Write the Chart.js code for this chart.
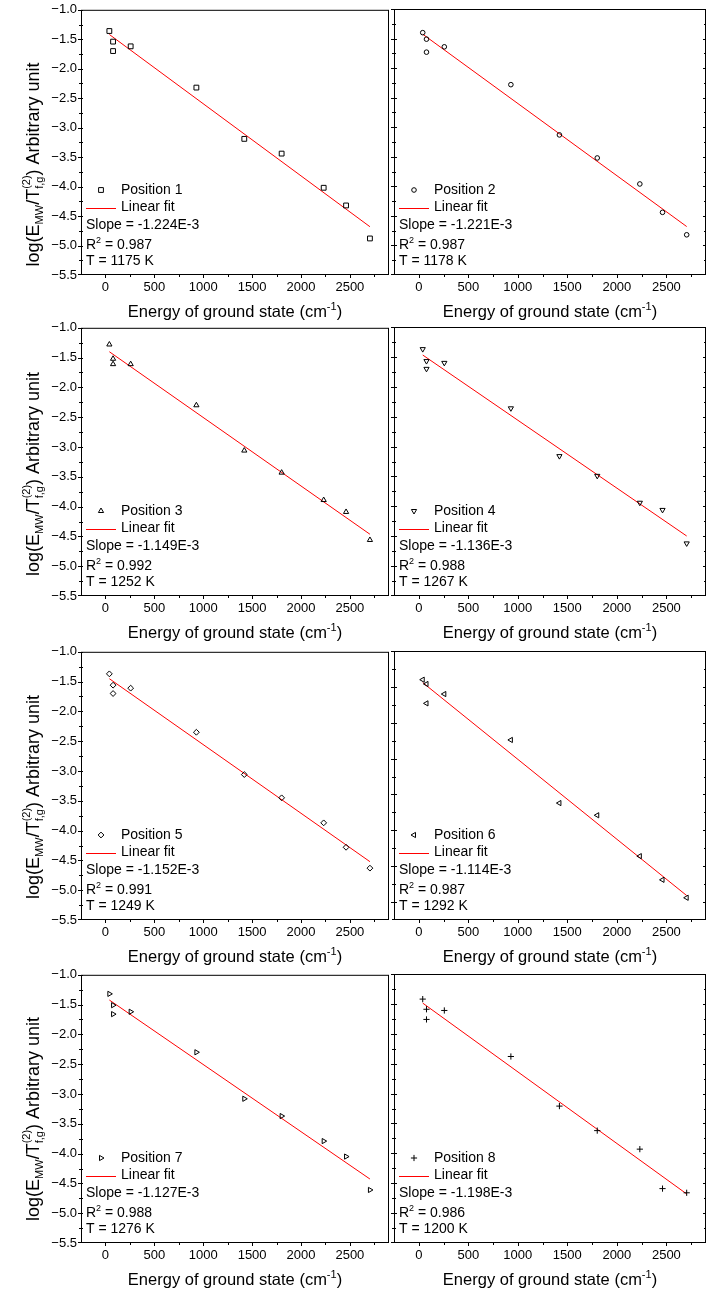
<!DOCTYPE html>
<html>
<head>
<meta charset="utf-8">
<script src="https://cdn.jsdelivr.net/npm/chart.js@4.4.1/dist/chart.umd.min.js"></script>
<style>
  html, body { margin: 0; padding: 0; background: #fff; }
  #board { position: relative; width: 711px; height: 1295px; overflow: hidden; background: #fff; }
  #board canvas { position: absolute; }
</style>
</head>
<body>
<div id="board"></div>
<script>
// Ground-state energy levels (cm^-1), shared by all eight positions
const energy = [40, 78, 78, 258, 930, 1420, 1802, 2232, 2461, 2705];

// log(E_MW / T(2)_f,g) for each measurement position
const position1 = [-1.36, -1.54, -1.70, -1.62, -2.32, -3.19, -3.44, -4.02, -4.32, -4.88];
const position2 = [-1.40, -1.51, -1.73, -1.64, -2.28, -3.13, -3.52, -3.96, -4.44, -4.82];
const position3 = [-1.28, -1.52, -1.61, -1.61, -2.30, -3.06, -3.43, -3.89, -4.09, -4.56];
const position4 = [-1.37, -1.57, -1.70, -1.60, -2.36, -3.16, -3.49, -3.94, -4.06, -4.62];
const position5 = [-1.37, -1.56, -1.70, -1.61, -2.35, -3.06, -3.45, -3.87, -4.28, -4.63];
const position6 = [-1.40, -1.46, -1.73, -1.60, -2.24, -3.12, -3.29, -3.86, -4.19, -4.44];
const position7 = [-1.32, -1.51, -1.66, -1.62, -2.30, -3.08, -3.37, -3.79, -4.05, -4.61];
const position8 = [-1.42, -1.59, -1.76, -1.61, -2.38, -3.21, -3.62, -3.93, -4.59, -4.66];

// Linear-fit results printed in each panel
const seriesNames = ['Position 1', 'Position 2', 'Position 3', 'Position 4',
                     'Position 5', 'Position 6', 'Position 7', 'Position 8'];
const fitSlopes = [-1.224e-3, -1.221e-3, -1.149e-3, -1.136e-3, -1.152e-3, -1.114e-3, -1.127e-3, -1.198e-3];
const fitR2 = ['0.987', '0.987', '0.992', '0.988', '0.991', '0.987', '0.988', '0.986'];
const temperatures = [1175, 1178, 1252, 1267, 1249, 1292, 1276, 1200];

// Axis ranges and tick labels
const xRange = [-250, 2900];
const xTickValues = [0, 500, 1000, 1500, 2000, 2500];
const yTop = -1.0;
const yBottoms = [-5.5, -5.5, -5.5, -5.5, -5.5, -4.75, -5.5, -5.5];
const yTickValues = [-1.0, -1.5, -2.0, -2.5, -3.0, -3.5, -4.0, -4.5, -5.0, -5.5];

const allSeries = [position1, position2, position3, position4, position5, position6, position7, position8];
const markerStyles = ['rect', 'circle', 'triangle', 'triangle', 'rectRot', 'triangle', 'triangle', 'cross'];
const markerRotations = [0, 0, 0, 180, 0, -90, 90, 0];
const markerRadius = { rect: 3.4, circle: 2.3, triangle: 3.0, rectRot: 2.9, cross: 3.1 };

const FONT = '"Liberation Sans", Arial, Helvetica, sans-serif';

// layout of the 4 x 2 grid of plot areas
const rowTops = [9, 327, 651, 974];
const plotHeights = [266, 269, 269, 269];
const yTitleShift = [22, 12, 11, 10];
const CANVAS_H = 332;

function mean(a) { return a.reduce((s, v) => s + v, 0) / a.length; }

function drawRich(ctx, parts, x, y) {
  let cx = x;
  for (const p of parts) {
    const items = p.stack || [p];
    let adv = 0;
    for (const q of items) {
      ctx.font = q.size + 'px ' + FONT;
      ctx.fillText(q.text, cx, y + (q.dy || 0));
      adv = Math.max(adv, ctx.measureText(q.text).width);
    }
    cx += adv;
  }
  return cx - x;
}
function richWidth(ctx, parts) {
  let w = 0;
  for (const p of parts) {
    const items = p.stack || [p];
    let adv = 0;
    for (const q of items) {
      ctx.font = q.size + 'px ' + FONT;
      adv = Math.max(adv, ctx.measureText(q.text).width);
    }
    w += adv;
  }
  return w;
}

const xTitleParts = [
  { text: 'Energy of ground state (cm', size: 16.5 },
  { text: '-1', size: 11, dy: -7 },
  { text: ')', size: 16.5 }
];
const yTitleParts = [
  { text: 'log(E', size: 18 },
  { text: 'MW', size: 11, dy: 4 },
  { text: '/T', size: 18 },
  { stack: [{ text: '(2)', size: 11, dy: -9 }, { text: 'f,g', size: 11, dy: 4 }] },
  { text: ') Arbitrary unit', size: 18 }
];

// frame, minor/major ticks, axis titles and the in-plot legend block
const panelDecor = {
  id: 'panelDecor',
  afterDraw(chart, args, opts) {
    const ctx = chart.ctx;
    const { left, right, top, bottom } = chart.chartArea;
    const xs = chart.scales.x, ys = chart.scales.y;
    const i = opts.index;
    const isLeft = opts.column === 0;
    ctx.save();
    ctx.strokeStyle = '#000';
    ctx.fillStyle = '#000';
    ctx.lineWidth = 1;

    // frame
    ctx.strokeRect(left + 0.5, top + 0.5, right - left - 1, bottom - top - 1);

    // ticks
    ctx.beginPath();
    for (let v = xRange[0] + 250; v < xRange[1]; v += 250) {
      const major = v % 500 === 0;
      const px = Math.round(xs.getPixelForValue(v)) + 0.5;
      ctx.moveTo(px, bottom - 1);
      ctx.lineTo(px, bottom + (major ? 3 : 2));
    }
    const yb = yBottoms[i];
    const nSteps = Math.round((yTop - yb) / 0.25);
    for (let k = 0; k <= nSteps; k++) {
      const v = yTop - k * 0.25;
      const major = k % 2 === 0;
      let py = Math.round(ys.getPixelForValue(v)) + 0.5;
      py = Math.min(Math.max(py, top + 0.5), bottom - 0.5);
      if (isLeft) {
        ctx.moveTo(left - (major ? 3 : 2), py);
        ctx.lineTo(left + 2, py);
      } else {
        ctx.moveTo(left - (major ? 3 : 2), py);
        ctx.lineTo(left + (major ? 3 : 2), py);
        ctx.moveTo(right - (major ? 3 : 2), py);
        ctx.lineTo(right, py);
      }
    }
    ctx.stroke();

    // x axis title
    ctx.textBaseline = 'alphabetic';
    ctx.textAlign = 'left';
    const xw = richWidth(ctx, xTitleParts);
    drawRich(ctx, xTitleParts, (left + right) / 2 - xw / 2, bottom + 42);

    // y axis title (left column only)
    if (isLeft) {
      const yw = richWidth(ctx, yTitleParts);
      ctx.save();
      ctx.translate(39, (top + bottom) / 2 + yTitleShift[opts.row]);
      ctx.rotate(-Math.PI / 2);
      drawRich(ctx, yTitleParts, -yw / 2, 0);
      ctx.restore();
    }

    // legend block
    const L = left;
    const B = bottom;
    ctx.font = '14px ' + FONT;
    ctx.textBaseline = 'middle';
    ctx.fillStyle = 'rgba(0,0,0,0)';
    ctx.strokeStyle = '#000';
    ctx.lineWidth = 1;
    const st = markerStyles[i];
    Chart.helpers.drawPoint(ctx, {
      pointStyle: st, rotation: markerRotations[i], radius: markerRadius[st], borderWidth: 1
    }, L + 20, B - 85);
    ctx.fillStyle = '#000';
    ctx.fillText(seriesNames[i], L + 40, B - 85);
    ctx.strokeStyle = '#ff0000';
    ctx.beginPath();
    ctx.moveTo(L + 5, Math.round(B - 67) + 0.5);
    ctx.lineTo(L + 35, Math.round(B - 67) + 0.5);
    ctx.stroke();
    ctx.fillText('Linear fit', L + 40, B - 67.5);
    ctx.fillText('Slope = ' + (fitSlopes[i] * 1e3).toFixed(3) + 'E-3', L + 5, B - 50);
    ctx.textBaseline = 'alphabetic';
    drawRich(ctx, [
      { text: 'R', size: 14 },
      { text: '2', size: 9, dy: -6 },
      { text: ' = ' + fitR2[i], size: 14 }
    ], L + 5, B - 31.5 + 5);
    ctx.textBaseline = 'middle';
    ctx.font = '14px ' + FONT;
    ctx.fillText('T = ' + temperatures[i] + ' K', L + 5, B - 13.5);
    ctx.restore();
  }
};

const board = document.getElementById('board');

for (let i = 0; i < 8; i++) {
  const row = Math.floor(i / 2), col = i % 2;
  const cw = col === 0 ? 394 : 323;
  const cl = col === 0 ? 0 : 388;
  const ct = rowTops[row] - 9;
  const canvas = document.createElement('canvas');
  canvas.width = cw; canvas.height = CANVAS_H;
  canvas.style.left = cl + 'px'; canvas.style.top = ct + 'px';
  canvas.style.width = cw + 'px'; canvas.style.height = CANVAS_H + 'px';
  board.appendChild(canvas);

  const values = allSeries[i];
  const pts = energy.map((e, k) => ({ x: e, y: values[k] }));
  const slope = fitSlopes[i];
  const intercept = mean(values) - slope * mean(energy);
  const e0 = Math.min(...energy), e1 = Math.max(...energy);
  const fitLine = [{ x: e0, y: intercept + slope * e0 }, { x: e1, y: intercept + slope * e1 }];
  const st = markerStyles[i];
  const xAxisH = CANVAS_H - 9 - plotHeights[row];

  new Chart(canvas.getContext('2d'), {
    type: 'scatter',
    data: {
      datasets: [
        {
          label: seriesNames[i],
          data: pts,
          pointStyle: st,
          rotation: markerRotations[i],
          pointRadius: markerRadius[st],
          pointBorderWidth: 1,
          pointBorderColor: '#000',
          pointBackgroundColor: 'rgba(0,0,0,0)'
        },
        {
          label: 'Linear fit',
          data: fitLine,
          showLine: true,
          borderColor: '#ff0000',
          borderWidth: 1,
          pointRadius: 0,
          fill: false
        }
      ]
    },
    options: {
      responsive: false,
      animation: false,
      devicePixelRatio: 1,
      events: [],
      layout: { padding: col === 0 ? { left: 0, right: 0, top: 9, bottom: 0 } : { left: 6, right: 5, top: 9, bottom: 0 } },
      plugins: {
        legend: { display: false },
        tooltip: { enabled: false },
        panelDecor: { index: i, column: col, row: row }
      },
      scales: {
        x: {
          type: 'linear',
          min: xRange[0], max: xRange[1],
          border: { display: false },
          grid: { display: false, drawTicks: true, tickLength: 3 },
          afterBuildTicks: s => { s.ticks = xTickValues.map(v => ({ value: v })); },
          ticks: {
            color: '#000', font: { family: FONT, size: 13 }, padding: 1.5,
            maxRotation: 0, autoSkip: false, callback: v => String(v)
          },
          afterFit: s => { s.height = xAxisH; }
        },
        y: {
          type: 'linear',
          min: yBottoms[i], max: yTop,
          border: { display: false },
          grid: { display: false, drawTicks: true, tickLength: 2 },
          afterBuildTicks: s => { s.ticks = yTickValues.filter(v => v >= yBottoms[i]).map(v => ({ value: v })); },
          ticks: {
            display: col === 0,
            color: '#000', font: { family: FONT, size: 13 }, padding: 2,
            autoSkip: false, callback: v => (v < 0 ? '\u2212' : '') + Math.abs(v).toFixed(1)
          },
          afterFit: s => { s.width = col === 0 ? 81 : 0; }
        }
      }
    },
    plugins: [panelDecor]
  });
}
</script>
</body>
</html>
